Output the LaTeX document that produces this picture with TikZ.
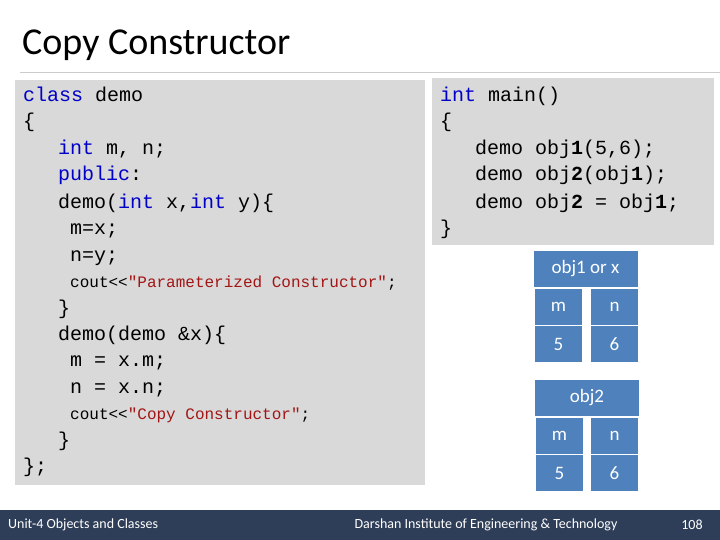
\documentclass[tikz,border=0pt]{standalone}
\usepackage{fontspec}
\setmainfont{Carlito}
\setmonofont{Liberation Mono}
\usetikzlibrary{positioning}
\definecolor{codebg}{HTML}{D9D9D9}
\definecolor{cellblue}{HTML}{4F81BD}
\definecolor{kw}{HTML}{0000C8}
\definecolor{str}{HTML}{A31515}
\definecolor{footbg}{HTML}{2E3E58}
\newcommand{\kw}[1]{\textcolor{kw}{#1}}
\newcommand{\str}[1]{\textcolor{str}{#1}}
\tikzset{
  code/.style={anchor=base west, inner sep=0pt, font=\ttfamily\fontsize{20}{20}\selectfont},
  smallcode/.style={code, font=\ttfamily\fontsize{16}{16}\selectfont},
  cell/.style={fill=cellblue, text=white, inner sep=0pt, minimum width=47, minimum height=36,
    font=\fontsize{19}{19}\selectfont},
  head/.style={cell, minimum width=104},
  foot/.style={text=white, inner sep=0pt, font=\fontsize{14}{14}\selectfont}
}
\begin{document}
\begin{tikzpicture}[x=1pt,y=-1pt]
\useasboundingbox (0,0) rectangle (720,540);

% Titre
  \node[anchor=base west, inner sep=0pt, font=\fontsize{38}{38}\selectfont] (title) at (22,55) {Copy Constructor};
  \draw[gray!40] (20,72) -- (720,72);

% Code
  \fill[codebg] (15,80) rectangle (425,485);
  \fill[codebg] (432,78) rectangle (714,245);

  \node[code] (l1) at (23,102) {\kw{class} demo};
  \node[code] (l2) at (23,128) {\{};
  \node[code] (l3) at (58,155) {\kw{int} m, n;};
  \node[code] (l4) at (58,181) {\kw{public}:};
  \node[code] (l5) at (58,208) {demo(\kw{int} x,\kw{int} y)\{};
  \node[code] (l6) at (70,234) {m=x;};
  \node[code] (l7) at (70,261) {n=y;};
  \node[smallcode] (l8) at (70,287) {cout<<\str{"Parameterized Constructor"};};
  \node[code] (l9) at (58,314) {\}};
  \node[code] (l10) at (58,340) {demo(demo \&x)\{};
  \node[code] (l11) at (70,366) {m = x.m;};
  \node[code] (l12) at (70,393) {n = x.n;};
  \node[smallcode] (l13) at (70,419) {cout<<\str{"Copy Constructor"};};
  \node[code] (l14) at (58,446) {\}};
  \node[code] (l15) at (23,472) {\};};

  \node[code] (r1) at (440,102) {\kw{int} main()};
  \node[code] (r2) at (440,128) {\{};
  \node[code] (r3) at (475,155) {demo obj\textbf{1}(5,6);};
  \node[code] (r4) at (475,181) {demo obj\textbf{2}(obj\textbf{1});};
  \node[code] (r5) at (475,208) {demo obj\textbf{2} = obj\textbf{1};};
  \node[code] (r6) at (440,234) {\}};

% Objets
  \node[head] (obj1) at (585.5,268.5) {obj1 or x};
  \node[cell] (m1) at (558.5,306.5) {m};
  \node[cell] (n1) at (614.5,306.5) {n};
  \node[cell] (v1) at (558.5,344) {5};
  \node[cell] (w1) at (614.5,344) {6};

  \node[head] (obj2) at (587,397.5) {obj2};
  \node[cell] (m2) at (559.5,435.5) {m};
  \node[cell] (n2) at (614.5,435.5) {n};
  \node[cell] (v2) at (559.5,473) {5};
  \node[cell] (w2) at (614.5,473) {6};

% Pied de page
  \fill[footbg] (0,510) rectangle (720,540);
  \node[foot, anchor=west] (unit) at (8,525) {Unit-4 Objects and Classes};
  \node[foot] (inst) at (486,525) {Darshan Institute of Engineering \& Technology};
  \node[foot] (page) at (692,525) {108};
\end{tikzpicture}
\end{document}
